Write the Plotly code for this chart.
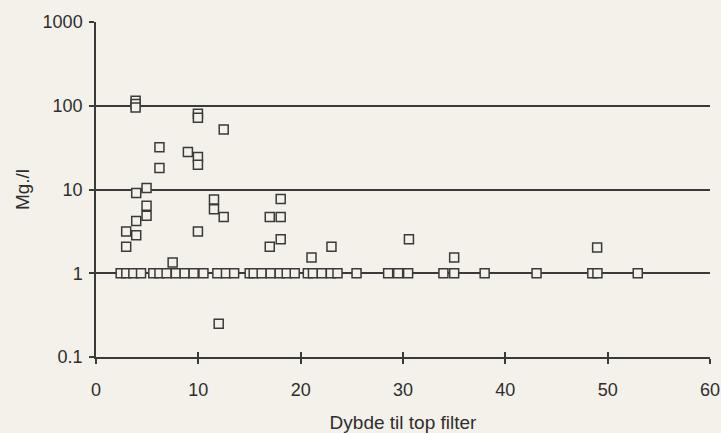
import plotly.graph_objects as go

# Depth to top of filter (m) and concentration (Mg./l)
depth_high = [3.87, 3.87, 3.87, 6.2, 6.2, 8.98, 9.96, 9.96, 9.96, 9.96, 12.48,
              3.93, 4.94, 4.94, 4.94, 3.93, 3.93, 2.95, 2.95, 7.49, 9.96,
              11.53, 11.53, 12.48, 11.99, 16.98, 18.05, 18.05, 16.98, 18.05,
              21.06, 23.01, 30.58, 35.0, 48.97]
conc_high = [115, 105, 95, 32, 18, 28, 24.5, 19.8, 80, 72, 52,
             9.1, 10.4, 6.4, 4.85, 4.2, 2.85, 3.15, 2.07, 1.34, 3.15,
             7.6, 5.8, 4.7, 0.25, 4.7, 4.7, 7.7, 2.07, 2.55,
             1.54, 2.07, 2.55, 1.54, 2.03]

depth_one = [2.41, 2.96, 3.65, 4.4,
             5.6, 6.2, 6.9, 7.8, 8.66, 9.54, 10.5,
             11.86, 12.7, 13.5,
             15.02, 15.41, 16.19, 17.07, 17.95, 18.64, 19.42,
             20.7, 21.2, 22.06, 22.95, 23.6, 25.46,
             28.55, 29.53, 30.5, 33.95, 35.0, 37.98, 43.05,
             48.5, 49.0, 52.94]
conc_one = [1.0] * len(depth_one)

depth = depth_one + depth_high
conc = conc_one + conc_high

x_ticks = [0, 10, 20, 30, 40, 50, 60]
y_ticks = [0.1, 1, 10, 100, 1000]
y_labels = ["0.1", "1", "10", "100", "1000"]

bg = "#f3f1e9"
ink = "#3a3a3a"

fig = go.Figure()
fig.add_trace(go.Scatter(
    x=depth, y=conc, mode="markers",
    marker=dict(symbol="square", size=9, color=bg,
                line=dict(color=ink, width=1.5)),
    showlegend=False, hoverinfo="x+y"))
fig.add_trace(go.Scatter(x=[], y=[], xaxis="x2", showlegend=False))

fig.update_layout(
    width=721, height=433,
    paper_bgcolor=bg, plot_bgcolor=bg,
    margin=dict(l=96, r=11, t=22, b=76),
    font=dict(family="Liberation Sans, Arial, sans-serif", size=18, color="#2e2e2e"),
    xaxis=dict(range=[0, 60], tickvals=x_ticks, showgrid=False, zeroline=False,
               showline=True, linecolor=ink, linewidth=1.5, automargin=False,
               ticks="outside", ticklen=5, tickwidth=1.5, tickcolor=ink,
               ticklabelstandoff=11,
               title=dict(text="Dybde til top filter", font=dict(size=19), standoff=17)),
    xaxis2=dict(range=[0, 60], overlaying="x", anchor="y", side="bottom",
                tickvals=x_ticks, showticklabels=False, showgrid=False,
                zeroline=False, showline=False, automargin=False,
                ticks="inside", ticklen=5, tickwidth=1.5, tickcolor=ink),
    yaxis=dict(type="log", range=[-1, 3], tickvals=y_ticks, ticktext=y_labels,
               showgrid=True, gridcolor=ink, gridwidth=1.5, zeroline=False,
               showline=True, linecolor=ink, linewidth=1.5, automargin=False,
               ticks="outside", ticklen=5, tickwidth=1.5, tickcolor=ink,
               ticklabelstandoff=3,
               title=dict(text="Mg./l", font=dict(size=19), standoff=8)),
)

fig.write_html("out.html")
